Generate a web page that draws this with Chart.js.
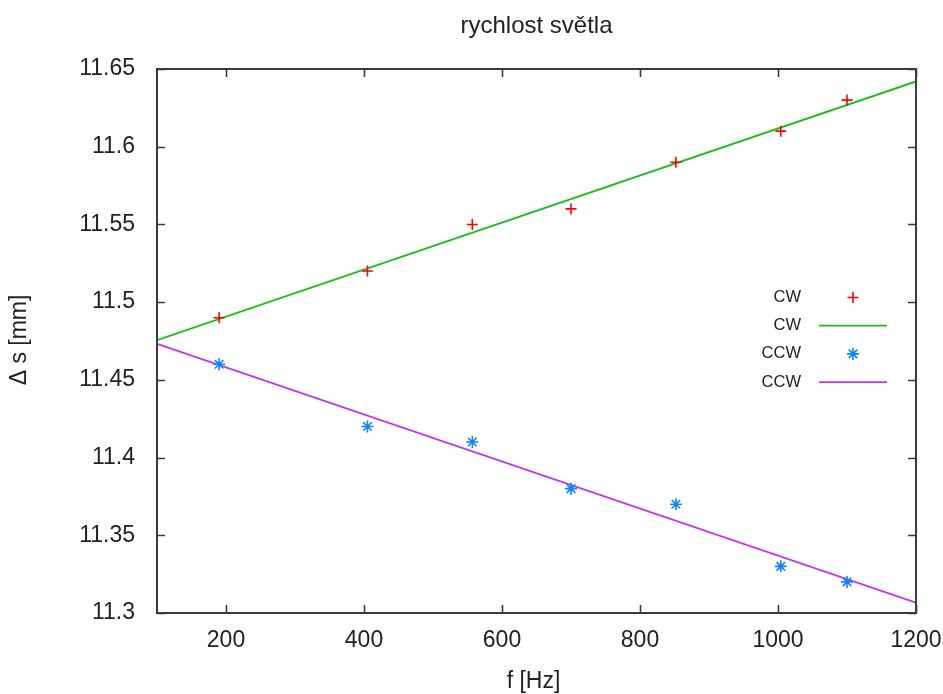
<!DOCTYPE html>
<html>
<head>
<meta charset="utf-8">
<title>rychlost světla</title>
<script src="https://cdn.jsdelivr.net/npm/chart.js@4/dist/chart.umd.min.js"></script>
<style>
  html, body { margin: 0; padding: 0; background: #ffffff; }
  #wrap { width: 943px; height: 694px; }
</style>
</head>
<body>
<div id="wrap"><canvas id="chart" width="943" height="694"></canvas></div>
<script>
const freqCw   = [190, 405, 557, 700, 852, 1004, 1100];
const sCw      = [11.49, 11.52, 11.55, 11.56, 11.59, 11.61, 11.63];
const freqCcw  = [190, 405, 557, 700, 852, 1004, 1100];
const sCcw     = [11.46, 11.42, 11.41, 11.38, 11.37, 11.33, 11.32];

// fitted lines (end points read at the plot edges)
const fitFreq  = [100, 1200];
const fitCw    = [11.4755, 11.642];
const fitCcw   = [11.4732, 11.3066];

const xTicks      = [200, 400, 600, 800, 1000, 1200];
const xTickLabels = ['200', '400', '600', '800', '1000', '1200'];
const yTicks      = [11.3, 11.35, 11.4, 11.45, 11.5, 11.55, 11.6, 11.65];
const yTickLabels = ['11.3', '11.35', '11.4', '11.45', '11.5', '11.55', '11.6', '11.65'];

const legendLabels = ['CW', 'CW', 'CCW', 'CCW'];

const RED     = '#ff0000';
const GREEN   = '#13c213';
const BLUE    = '#0a84ff';
const MAGENTA = '#c42cff';
const TEXT    = '#222222';
const FRAME   = '#3a3a3a';
const FONT    = "'Liberation Sans', Arial, sans-serif";

const toXY = (xs, ys) => xs.map((x, i) => ({ x, y: ys[i] }));

// gnuplot-like frame, inward ticks, title, axis labels and key
const gnuplotFrame = {
  id: 'gnuplotFrame',
  afterDraw(chart) {
    const { ctx, chartArea: a, scales } = chart;
    ctx.save();

    ctx.strokeStyle = FRAME;
    ctx.lineWidth = 1.6;
    ctx.beginPath();
    xTicks.forEach(v => {
      const px = Math.round(scales.x.getPixelForValue(v)) + 0.5;
      ctx.moveTo(px, a.bottom); ctx.lineTo(px, a.bottom - 8);
      ctx.moveTo(px, a.top);    ctx.lineTo(px, a.top + 8);
    });
    yTicks.forEach(v => {
      const py = Math.round(scales.y.getPixelForValue(v)) + 0.5;
      ctx.moveTo(a.left, py);  ctx.lineTo(a.left + 8, py);
      ctx.moveTo(a.right, py); ctx.lineTo(a.right - 8, py);
    });
    ctx.stroke();
    ctx.lineWidth = 2;
    ctx.strokeRect(a.left, a.top, a.right - a.left, a.bottom - a.top);

    // title and axis titles
    ctx.fillStyle = TEXT;
    ctx.textAlign = 'center';
    ctx.textBaseline = 'alphabetic';
    ctx.font = `24px ${FONT}`;
    ctx.fillText('rychlost světla', (a.left + a.right) / 2, 33);
    ctx.font = `23px ${FONT}`;
    ctx.textBaseline = 'middle';
    ctx.fillText('f [Hz]', (a.left + a.right) / 2 - 3, 682);
    ctx.save();
    ctx.translate(20, 340);
    ctx.rotate(-Math.PI / 2);
    ctx.fillText('\u0394 s [mm]', 0, 0);
    ctx.restore();

    // key
    const rowY = i => 297.5 + i * 28.2;
    ctx.font = `16.5px ${FONT}`;
    ctx.textAlign = 'right';
    legendLabels.forEach((t, i) => ctx.fillText(t, 801, rowY(i)));

    const mx = 853;
    ctx.lineWidth = 1.6;
    // + sample
    ctx.strokeStyle = RED;
    ctx.beginPath();
    ctx.moveTo(mx - 5.5, rowY(0)); ctx.lineTo(mx + 5.5, rowY(0));
    ctx.moveTo(mx, rowY(0) - 5.5); ctx.lineTo(mx, rowY(0) + 5.5);
    ctx.stroke();
    // * sample
    ctx.strokeStyle = BLUE;
    ctx.beginPath();
    const y2 = rowY(2), r = 6, d = r * Math.SQRT1_2;
    ctx.moveTo(mx - r, y2); ctx.lineTo(mx + r, y2);
    ctx.moveTo(mx, y2 - r); ctx.lineTo(mx, y2 + r);
    ctx.moveTo(mx - d, y2 - d); ctx.lineTo(mx + d, y2 + d);
    ctx.moveTo(mx - d, y2 + d); ctx.lineTo(mx + d, y2 - d);
    ctx.stroke();
    // line samples
    ctx.lineWidth = 1.8;
    ctx.strokeStyle = GREEN;
    ctx.beginPath(); ctx.moveTo(819, rowY(1)); ctx.lineTo(887, rowY(1)); ctx.stroke();
    ctx.strokeStyle = MAGENTA;
    ctx.beginPath(); ctx.moveTo(819, rowY(3)); ctx.lineTo(887, rowY(3)); ctx.stroke();

    ctx.restore();
  },
};

new Chart(document.getElementById('chart'), {
  type: 'scatter',
  data: {
    datasets: [
      {
        label: 'CW',
        data: toXY(freqCw, sCw),
        pointStyle: 'cross',
        pointRadius: 5.5,
        pointBorderWidth: 1.6,
        borderColor: RED,
        backgroundColor: RED,
        order: 1,
      },
      {
        label: 'CW',
        data: toXY(fitFreq, fitCw),
        showLine: true,
        pointRadius: 0,
        borderColor: GREEN,
        borderWidth: 1.8,
        order: 3,
      },
      {
        label: 'CCW',
        data: toXY(freqCcw, sCcw),
        pointStyle: 'star',
        pointRadius: 6,
        pointBorderWidth: 1.6,
        borderColor: BLUE,
        backgroundColor: BLUE,
        order: 2,
      },
      {
        label: 'CCW',
        data: toXY(fitFreq, fitCcw),
        showLine: true,
        pointRadius: 0,
        borderColor: MAGENTA,
        borderWidth: 1.8,
        order: 4,
      },
    ],
  },
  options: {
    responsive: false,
    animation: false,
    layout: { padding: { top: 69, right: 27, left: 0, bottom: 0 } },
    plugins: {
      legend:  { display: false },
      title:   { display: false },
      tooltip: { enabled: false },
    },
    scales: {
      x: {
        type: 'linear',
        min: 100,
        max: 1200,
        afterBuildTicks: s => { s.ticks = xTicks.map(v => ({ value: v })); },
        afterFit: s => { s.height = 81; s.paddingLeft = 0; s.paddingRight = 0; },
        grid: { display: false, drawTicks: false },
        border: { display: false },
        ticks: {
          color: TEXT,
          padding: 14,
          font: { family: FONT, size: 23 },
          callback: (v, i) => xTickLabels[i],
        },
      },
      y: {
        type: 'linear',
        min: 11.3,
        max: 11.65,
        afterBuildTicks: s => { s.ticks = yTicks.map(v => ({ value: v })); },
        afterFit: s => { s.width = 157; s.paddingTop = 0; s.paddingBottom = 0; },
        grid: { display: false, drawTicks: false },
        border: { display: false },
        ticks: {
          color: TEXT,
          padding: 22,
          font: { family: FONT, size: 23 },
          callback: (v, i) => yTickLabels[i],
        },
      },
    },
  },
  plugins: [gnuplotFrame],
});
</script>
</body>
</html>
